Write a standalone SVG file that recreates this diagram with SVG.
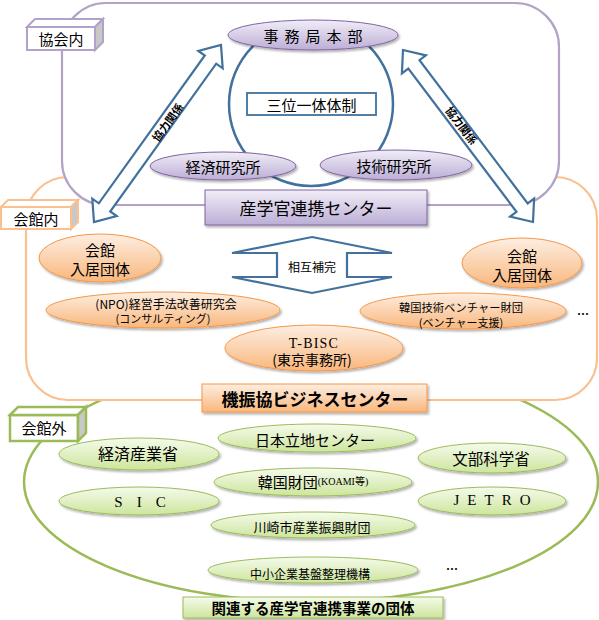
<svg xmlns="http://www.w3.org/2000/svg" width="599" height="620" viewBox="0 0 599 620">
<defs>
<linearGradient id="gP" x1="0" y1="0" x2="0" y2="1"><stop offset="0" stop-color="#f1edf7"/><stop offset="1" stop-color="#bcaed6"/></linearGradient>
<linearGradient id="gO" x1="0" y1="0" x2="0" y2="1"><stop offset="0" stop-color="#fdeee2"/><stop offset="1" stop-color="#f9b77c"/></linearGradient>
<linearGradient id="gG" x1="0" y1="0" x2="0" y2="1"><stop offset="0" stop-color="#f5fbec"/><stop offset="1" stop-color="#cde59c"/></linearGradient>
<filter id="sh" x="-10%" y="-20%" width="120%" height="150%"><feDropShadow dx="1.5" dy="2" stdDeviation="1.2" flood-color="#000" flood-opacity="0.3"/></filter>
<style>
text{font-family:'Noto Sans CJK JP','Noto Sans CJK SC',sans-serif;fill:#000;text-anchor:middle;dominant-baseline:central}
.serif{font-family:'Liberation Serif','Noto Sans CJK JP',serif}
.pe{fill:url(#gP);stroke:#8064a2;stroke-width:1;filter:url(#sh)}
.oe{fill:url(#gO);stroke:#f79646;stroke-width:1;filter:url(#sh)}
.ge{fill:url(#gG);stroke:#9bbb59;stroke-width:1;filter:url(#sh)}
.arr{fill:#fff;stroke:#41719c;stroke-width:2.2;stroke-linejoin:miter}
.b{font-weight:bold}
</style>
</defs>
<g id="regions">
<ellipse id="kaikangai-area" cx="311" cy="482" rx="287" ry="120" fill="#fff" stroke="#9bbb59" stroke-width="2.5"/>
<rect id="kaikannai-area" x="26" y="177" width="571" height="223" rx="42" fill="#fff" stroke="#fac090" stroke-width="2.2"/>
<rect id="kyokainai-area" x="62" y="3" width="497" height="202" rx="44" fill="#fff" stroke="#b3a2c7" stroke-width="2.2"/>
<circle id="sanmi-circle" cx="311" cy="104" r="82" fill="none" stroke="#41719c" stroke-width="2.5"/>
</g>
<g id="labels">
<g id="label-kyokainai">
<rect x="27" y="27" width="68" height="23" fill="#fff" stroke="#b3a2c7" stroke-width="2"/>
<polygon points="27,27 35,19 103,19 95,27" fill="#fff" stroke="#b3a2c7" stroke-width="2"/>
<polygon points="95,27 103,19 103,42 95,50" fill="#c8c8c8" stroke="#b3a2c7" stroke-width="2"/>
<text x="61" y="38.5" font-size="15">協会内</text>
</g>
<g id="label-kaikannai">
<rect x="1" y="207" width="70" height="22" fill="#fff" stroke="#fac090" stroke-width="2"/>
<polygon points="1,207 8,200 78,200 71,207" fill="#fff" stroke="#fac090" stroke-width="2"/>
<polygon points="71,207 78,200 78,222 71,229" fill="#c8c8c8" stroke="#fac090" stroke-width="2"/>
<text x="36" y="218" font-size="15">会館内</text>
</g>
<g id="label-kaikangai">
<rect x="10" y="415" width="68" height="26" fill="#fff" stroke="#9bbb59" stroke-width="2.5"/>
<polygon points="10,415 18,407 86,407 78,415" fill="#fff" stroke="#9bbb59" stroke-width="2.5"/>
<polygon points="78,415 86,407 86,433 78,441" fill="#c8c8c8" stroke="#9bbb59" stroke-width="2.5"/>
<text x="44" y="427" font-size="15">会館外</text>
</g>
</g>
<g id="connectors">
<g id="arrow-left">
<polygon class="arr" points="221,45 222.7,68.3 216.2,63.7 110.2,211.5 116.7,216.1 94,222 92.3,198.7 98.8,203.3 204.8,55.5 198.3,50.9"/>
<text x="167" y="122" font-size="11" class="b" transform="rotate(-54.4 167 122)">協力関係</text>
</g>
<g id="arrow-right">
<polygon class="arr" points="403,50 425.9,55.4 419.5,60.2 527.7,203.4 534.1,198.6 533,222 510.1,216.6 516.5,211.8 408.3,68.6 401.9,73.4"/>
<text x="462" y="125" font-size="11" class="b" transform="rotate(52.9 462 125)">協力関係</text>
</g>
<g id="arrow-mutual">
<polygon class="arr" stroke-width="2.6" points="312,237 392,253 347,253 347,277 392,277 312,293 232,277 277,277 277,253 232,253"/>
<text x="312" y="266" font-size="12">相互補完</text>
</g>
</g>
<g id="nodes">
<g id="jimukyoku"><ellipse class="pe" cx="313" cy="35" rx="85" ry="15"/><text x="316" y="35" font-size="15" letter-spacing="6">事務局本部</text></g>
<g id="sanmi"><rect x="247" y="93" width="129" height="22" fill="#fff" stroke="#41719c" stroke-width="1.8"/><text x="311.5" y="104" font-size="15">三位一体体制</text></g>
<g id="keizai"><ellipse class="pe" cx="223" cy="166" rx="73" ry="14"/><text x="223" y="166" font-size="15">経済研究所</text></g>
<g id="gijutsu"><ellipse class="pe" cx="396" cy="165" rx="76" ry="15"/><text x="394" y="165" font-size="15">技術研究所</text></g>
<g id="sangaku"><rect class="pe" x="205" y="190" width="222" height="35" fill="url(#gP)"/><text x="316" y="207" font-size="17">産学官連携センター</text></g>
<g id="nyukyo-left"><ellipse class="oe" cx="100" cy="258" rx="61" ry="24"/><text x="100" y="249" font-size="15">会館</text><text x="100" y="268" font-size="15">入居団体</text></g>
<g id="nyukyo-right"><ellipse class="oe" cx="522" cy="263" rx="60" ry="25"/><text x="522" y="255" font-size="15">会館</text><text x="522" y="274" font-size="15">入居団体</text></g>
<g id="npo"><ellipse class="oe" cx="163" cy="310" rx="117" ry="18"/><text x="166" y="303" font-size="12">(NPO)経営手法改善研究会</text><text x="163" y="318" font-size="11">(コンサルティング)</text></g>
<g id="kankoku-venture"><ellipse class="oe" cx="463" cy="311" rx="103" ry="18"/><text x="461" y="307" font-size="11.3">韓国技術ベンチャー財団</text><text x="461" y="322" font-size="11">(ベンチャー支援)</text></g>
<text x="583" y="313" font-size="12" class="b">…</text>
<g id="tbisc"><ellipse class="oe" cx="314" cy="348" rx="89" ry="23"/><text x="314" y="343" font-size="14" class="serif" letter-spacing="1.2">T-BISC</text><text x="312" y="359" font-size="14">(東京事務所)</text></g>
<g id="kishinkyo"><rect class="oe" x="202" y="384" width="225" height="28"/><text x="315" y="398" font-size="17" class="b">機振協ビジネスセンター</text></g>
<g id="keisansho"><ellipse class="ge" cx="139" cy="454" rx="80" ry="16"/><text x="138" y="453" font-size="16">経済産業省</text></g>
<g id="sic"><ellipse class="ge" cx="139" cy="501" rx="80" ry="14"/><text x="147" y="502" font-size="15" class="serif" letter-spacing="14">SIC</text></g>
<g id="ritchi"><ellipse class="ge" cx="317" cy="438" rx="99" ry="14"/><text x="315" y="439" font-size="15">日本立地センター</text></g>
<g id="kankoku-zaidan"><ellipse class="ge" cx="313" cy="482" rx="99" ry="14"/><text x="313" y="481"><tspan font-size="15">韓国財団</tspan><tspan font-size="10" class="serif">(KOAMI等)</tspan></text></g>
<g id="kawasaki"><ellipse class="ge" cx="313" cy="525" rx="102" ry="13"/><text x="312" y="526" font-size="13">川崎市産業振興財団</text></g>
<g id="chusho"><ellipse class="ge" cx="313" cy="570" rx="105" ry="13"/><text x="310" y="573" font-size="12">中小企業基盤整理機構</text></g>
<g id="monbu"><ellipse class="ge" cx="492" cy="458" rx="74" ry="15"/><text x="491" y="458" font-size="15.5">文部科学省</text></g>
<g id="jetro"><ellipse class="ge" cx="492" cy="501" rx="74" ry="14"/><text x="496" y="500" font-size="15" class="serif" letter-spacing="8">JETRO</text></g>
<text x="452" y="568" font-size="12" class="b">…</text>
<g id="kanren"><rect class="ge" x="183" y="597" width="260" height="21"/><text x="313" y="607.5" font-size="14.5" class="b">関連する産学官連携事業の団体</text></g>
</g>
</svg>
